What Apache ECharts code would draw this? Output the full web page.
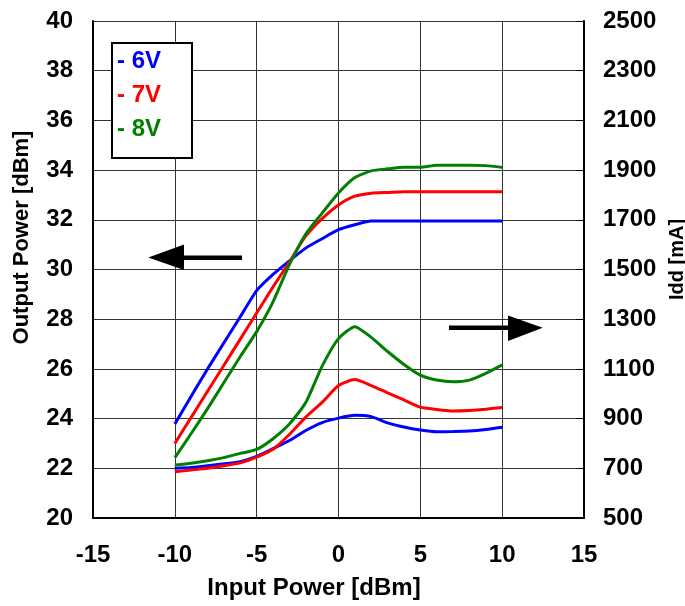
<!DOCTYPE html>
<html>
<head>
<meta charset="utf-8">
<script src="https://cdn.jsdelivr.net/npm/echarts@6/dist/echarts.min.js"></script>
<style>
html,body{margin:0;padding:0;background:#fff;}
#chart{width:685px;height:606px;}
</style>
</head>
<body>
<div id="chart"></div>
<script>
// ---- data ----
var pin = [-10,-9,-8,-7,-6,-5,-4,-3,-2,-1,0,1,2,3,4,5,6,7,8,9,10];
var seriesNames = ['6V','7V','8V'];
var seriesColors = ['#0000ff','#ff0000','#008000'];
var pout6V = [23.78,24.9,26.0,27.05,28.1,29.15,29.8,30.35,30.86,31.24,31.6,31.8,31.95,31.95,31.95,31.95,31.95,31.95,31.95,31.95,31.95];
var pout7V = [23.0,24.05,25.1,26.15,27.2,28.25,29.3,30.3,31.35,32.05,32.6,32.95,33.07,33.1,33.13,33.13,33.13,33.13,33.13,33.13,33.13];
var pout8V = [22.43,23.4,24.4,25.45,26.5,27.5,28.7,30.2,31.43,32.27,33.08,33.7,33.97,34.05,34.11,34.11,34.2,34.2,34.2,34.18,34.11];
var idd6V = [700,703,710,718,727,748,779,812,852,884,902,913,908,883,866,854,847,848,850,856,865];
var idd7V = [686,693,700,710,722,745,777,836,906,965,1033,1057,1033,1004,975,946,937,931,933,938,945];
var idd8V = [713,720,730,743,760,776,819,878,965,1111,1222,1270,1227,1170,1118,1075,1055,1048,1055,1082,1116];
var xTicks = [-15,-10,-5,0,5,10,15];
var leftTicks = [20,22,24,26,28,30,32,34,36,38,40];
var rightTicks = [500,700,900,1100,1300,1500,1700,1900,2100,2300,2500];

function pairs(ys){ return pin.map(function(x,i){ return [x, ys[i]]; }); }

var FONT = 'Arial, "Liberation Sans", sans-serif';
var poutData = [pout6V, pout7V, pout8V];
var iddData = [idd6V, idd7V, idd8V];
var series = [];
for (var k = 0; k < 3; k++) {
  series.push({
    name: seriesNames[k], type: 'line', xAxisIndex: 0, yAxisIndex: 0,
    data: pairs(poutData[k]), symbol: 'none', smooth: 0.2,
    lineStyle: {color: seriesColors[k], width: 3}, itemStyle: {color: seriesColors[k]},
    z: 3 + k, silent: true
  });
}
for (var k2 = 0; k2 < 3; k2++) {
  series.push({
    name: seriesNames[k2], type: 'line', xAxisIndex: 0, yAxisIndex: 1,
    data: pairs(iddData[k2]), symbol: 'none', smooth: 0.2,
    lineStyle: {color: seriesColors[k2], width: 3}, itemStyle: {color: seriesColors[k2]},
    z: 3 + k2, silent: true
  });
}

var chart = echarts.init(document.getElementById('chart'), null, {renderer: 'canvas'});
var labelStyle = {color: '#000', fontSize: 24, fontWeight: 'bold', fontFamily: FONT};
chart.setOption({
  animation: false,
  backgroundColor: '#fff',
  grid: {left: 93, right: 101, top: 21, bottom: 88, containLabel: false, outerBoundsMode: 'none'},
  legend: {
    orient: 'vertical', left: 112, top: 43,
    padding: [6, 31, 17, 0], itemGap: 10, itemWidth: 0, itemHeight: 0,
    borderColor: '#000', borderWidth: 2, backgroundColor: '#fff',
    selectedMode: false,
    formatter: '- {name}',
    textStyle: {fontSize: 24, fontWeight: 'bold', fontFamily: FONT},
    data: seriesNames.map(function(n, i){ return {name: n, icon: 'none', textStyle: {color: seriesColors[i]}}; })
  },
  xAxis: {
    type: 'value', min: xTicks[0], max: xTicks[xTicks.length-1], interval: 5,
    name: 'Input Power [dBm]', nameLocation: 'middle', nameGap: 58,
    nameTextStyle: {color: '#000', fontSize: 24, fontWeight: 'bold', fontFamily: FONT, padding: [0, 49, 0, 0]},
    axisLine: {show: true, onZero: false, lineStyle: {color: '#000', width: 2}},
    axisTick: {show: false},
    axisLabel: Object.assign({margin: 25}, labelStyle),
    splitLine: {show: true, lineStyle: {color: '#333', width: 1}}
  },
  yAxis: [{
    type: 'value', min: leftTicks[0], max: leftTicks[leftTicks.length-1], interval: 2,
    name: 'Output Power [dBm]', nameLocation: 'middle', nameGap: 60, nameRotate: 90,
    nameTextStyle: {color: '#000', fontSize: 22, fontWeight: 'bold', fontFamily: FONT, padding: [0, 0, 0, 64]},
    axisLine: {show: true, onZero: false, lineStyle: {color: '#000', width: 2}},
    axisTick: {show: false},
    axisLabel: Object.assign({margin: 20}, labelStyle),
    splitLine: {show: true, lineStyle: {color: '#333', width: 1}}
  }, {
    type: 'value', position: 'right', min: rightTicks[0], max: rightTicks[rightTicks.length-1],
    alignTicks: true,
    name: 'Idd [mA]', nameLocation: 'middle', nameGap: 79, nameRotate: 90,
    nameTextStyle: {color: '#000', fontSize: 20, fontWeight: 'bold', fontFamily: FONT, padding: [0, 0, 0, 20]},
    axisLine: {show: true, onZero: false, lineStyle: {color: '#000', width: 2}},
    axisTick: {show: true, inside: true, length: 8, lineStyle: {color: '#000', width: 1}},
    axisLabel: Object.assign({margin: 19, formatter: function(v){ return String(Math.round(v)); }}, labelStyle),
    splitLine: {show: false}
  }],
  graphic: [
    {type: 'rect', shape: {x: 183, y: 255.5, width: 59, height: 4.5}, style: {fill: '#000'}, z: 10},
    {type: 'polygon', shape: {points: [[148.3,257.5],[184,244.5],[184,270]]}, style: {fill: '#000'}, z: 10},
    {type: 'rect', shape: {x: 449, y: 325.5, width: 60, height: 4.5}, style: {fill: '#000'}, z: 10},
    {type: 'polygon', shape: {points: [[542.7,327.7],[508,315.5],[508,341]]}, style: {fill: '#000'}, z: 10}
  ],
  series: series
});
</script>
</body>
</html>
